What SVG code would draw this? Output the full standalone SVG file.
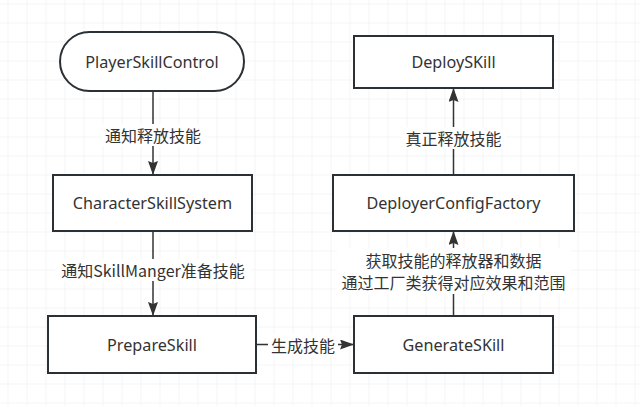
<svg xmlns="http://www.w3.org/2000/svg" width="640" height="406" viewBox="0 0 640 406">
<defs>
<pattern id="grid" x="7.5" y="3.5" width="19" height="19" patternUnits="userSpaceOnUse">
<path d="M0 0H19M0 0V19" fill="none" stroke="#ececec" stroke-width="1"/>
</pattern>
<marker id="arr" viewBox="0 0 14 10" refX="14" refY="5" markerWidth="14" markerHeight="10" markerUnits="userSpaceOnUse" orient="auto">
<path d="M0 0L14 5L0 10L2 5Z" fill="#333"/>
</marker>
<style>
.box{fill:#fff;stroke:#2b3035;stroke-width:2}
.t{font-family:"Noto Sans","Noto Sans CJK SC",sans-serif;font-size:16.2px;fill:#333;text-anchor:middle;dominant-baseline:central}
.e{fill:none;stroke:#333;stroke-width:1.5;marker-end:url(#arr)}
.lbl{font-family:"Noto Sans CJK SC","Noto Sans",sans-serif;font-size:16px;fill:#333;text-anchor:middle;dominant-baseline:central}
.bg{fill:#fff}
</style>
</defs>
<rect width="640" height="406" fill="#fff"/>
<rect width="640" height="406" fill="url(#grid)"/>
<g id="connectors">
<path class="e" d="M153 91V175"/>
<path class="e" d="M153 231V316"/>
<path class="e" d="M256 344.5H354"/>
<path class="e" d="M453.5 316V231"/>
<path class="e" d="M453.5 175V88"/>
<rect class="bg" x="101" y="124" width="104" height="22"/>
<text class="lbl" x="153" y="135">通知释放技能</text>
<rect class="bg" x="55" y="259" width="196" height="22"/>
<text class="lbl" x="153" y="270">通知SkillManger准备技能</text>
<rect class="bg" x="268" y="334" width="70" height="22"/>
<text class="lbl" x="303" y="345">生成技能</text>
<rect class="bg" x="337" y="248" width="234" height="46"/>
<text class="lbl" x="453.5" y="260">获取技能的释放器和数据</text>
<text class="lbl" x="453.5" y="282">通过工厂类获得对应效果和范围</text>
<rect class="bg" x="402" y="127" width="104" height="22"/>
<text class="lbl" x="453.5" y="138">真正释放技能</text>
</g>
<g id="PlayerSkillControl">
<rect class="box" x="60" y="32" width="184" height="59" rx="29.5"/>
<text class="t" x="152" y="61.5">PlayerSkillControl</text>
</g>
<g id="CharacterSkillSystem">
<rect class="box" x="53" y="175" width="199" height="56"/>
<text class="t" x="152.5" y="203">CharacterSkillSystem</text>
</g>
<g id="PrepareSkill">
<rect class="box" x="48" y="316" width="208" height="57"/>
<text class="t" x="152" y="344.5">PrepareSkill</text>
</g>
<g id="GenerateSKill">
<rect class="box" x="354" y="316" width="199" height="57"/>
<text class="t" x="453.5" y="344.5">GenerateSKill</text>
</g>
<g id="DeployerConfigFactory">
<rect class="box" x="333" y="175" width="241" height="56"/>
<text class="t" x="453.5" y="203">DeployerConfigFactory</text>
</g>
<g id="DeploySKill">
<rect class="box" x="354" y="36" width="199" height="52"/>
<text class="t" x="453.5" y="62">DeploySKill</text>
</g>
</svg>
